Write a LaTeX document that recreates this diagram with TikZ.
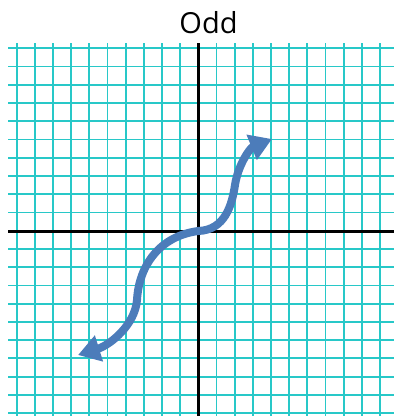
\documentclass[tikz,border=0pt]{standalone}
\usepackage{fontspec}
\setmainfont{Open Sans}
\usepackage{tikz}
\usetikzlibrary{arrows.meta}
\definecolor{gridcolor}{RGB}{40,200,200}
\definecolor{curvecolor}{RGB}{76,124,186}

\begin{document}
\begin{tikzpicture}[
    x=1pt, y=-1pt,
    gridline/.style={draw=gridcolor, line width=1.8pt},
    axis/.style={draw=black, line width=3pt},
    curve/.style={draw=curvecolor, line width=8pt, {Triangle[length=22pt, width=26pt]}-{Triangle[length=22pt, width=26pt]}},
    title/.style={font=\fontsize{29}{34}\selectfont, anchor=base, inner sep=0pt}
]
    \useasboundingbox (0,0) rectangle (394,416);

    % grid
    \foreach \k in {0,...,20}
        \draw[gridline] (8,48.3+\k*18.24) -- (394,48.3+\k*18.24);
    \foreach \j in {-10,...,10}
        \draw[gridline] (198.3+\j*18.17,43) -- (198.3+\j*18.17,416);

    % axes
    \coordinate (origin) at (198.3,231);
    \draw[axis] (8,231) -- (394,231);
    \draw[axis] (198.3,43) -- (198.3,416);

    \node[title] (title) at (208.5,33) {Odd};

    % odd function
    \coordinate (lowtip) at (78,355);
    \coordinate (hightip) at (272,139);
    \draw[curve] (lowtip) .. controls (110,345) and (135,325) .. (137,300)
        .. controls (139,265) and (160,236) .. (origin)
        .. controls (225,230) and (232,205) .. (235,185)
        .. controls (238,165) and (250,148) .. (hightip);
\end{tikzpicture}
\end{document}
